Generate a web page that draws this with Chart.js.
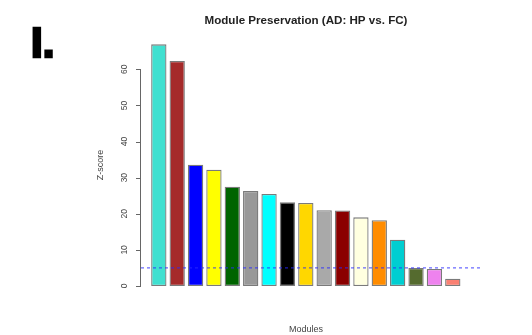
<!DOCTYPE html>
<html>
<head>
<meta charset="utf-8">
<script src="https://cdn.jsdelivr.net/npm/chart.js@4/dist/chart.umd.min.js"></script>
<style>
  body { margin: 0; background: #fff; }
  #wrap { position: relative; width: 532px; height: 335px; }
</style>
</head>
<body>
<div id="wrap"><canvas id="barChart" width="532" height="335"></canvas></div>
<script>
// modules (WGCNA colour names), sorted by preservation Z-score
var modules = ['turquoise', 'brown', 'blue', 'yellow', 'darkgreen', 'grey60', 'cyan', 'black',
  'gold', 'darkgrey', 'darkred', 'lightyellow', 'darkorange', 'darkturquoise',
  'darkolivegreen', 'violet', 'salmon'];
var zScores = [66.9, 62.3, 33.6, 32.2, 27.5, 26.3, 25.5, 23.2, 23.0, 21.0, 20.9, 19.0, 18.2, 12.8, 5.0, 4.7, 2.0];
var barColors = ['#40E0D0', '#A52A2A', '#0000FF', '#FFFF00', '#006400', '#999999', '#00FFFF', '#000000',
  '#FFD700', '#A9A9A9', '#8B0000', '#FFFFE0', '#FF8C00', '#00CED1', '#556B2F', '#EE82EE', '#FA8072'];
var yTicks = [0, 10, 20, 30, 40, 50, 60];
var threshold = 5;

// axis limits (R plot region)
var xMin = 0.03, xMax = 18.59;
var yMin = -2.77, yMax = 69.77;

var barData = modules.map(function (m, i) {
  return { x: i + 1, y: zScores[i] };
});

//-------------
//- R STYLE TEXT AND Y AXIS -
//-------------
var rAxisPlugin = {
  id: 'rAxis',
  afterDraw: function (chart) {
    var ctx = chart.ctx;
    var area = chart.chartArea;
    var ys = chart.scales.y;
    var x0 = area.left;
    ctx.save();

    // y axis line and ticks
    ctx.strokeStyle = '#666';
    ctx.lineWidth = 1;
    ctx.beginPath();
    ctx.moveTo(x0 - 0.5, ys.getPixelForValue(yTicks[0]));
    ctx.lineTo(x0 - 0.5, ys.getPixelForValue(yTicks[yTicks.length - 1]));
    yTicks.forEach(function (t) {
      var py = Math.round(ys.getPixelForValue(t)) + 0.5;
      ctx.moveTo(x0, py);
      ctx.lineTo(x0 - 5, py);
    });
    ctx.stroke();

    // rotated tick labels
    ctx.fillStyle = '#444';
    ctx.font = '8.5px "Liberation Sans", Arial, sans-serif';
    ctx.textAlign = 'center';
    ctx.textBaseline = 'middle';
    yTicks.forEach(function (t) {
      ctx.save();
      ctx.translate(x0 - 16, ys.getPixelForValue(t));
      ctx.rotate(-Math.PI / 2);
      ctx.fillText(String(t), 0, 0);
      ctx.restore();
    });

    // axis titles
    ctx.font = '9px "Liberation Sans", Arial, sans-serif';
    ctx.save();
    ctx.translate(101, 165);
    ctx.rotate(-Math.PI / 2);
    ctx.fillText('Z-score', 0, 0);
    ctx.restore();
    ctx.fillText('Modules', 306, 330);

    // main title
    ctx.fillStyle = '#222';
    ctx.font = 'bold 11.6px "Liberation Sans", Arial, sans-serif';
    ctx.fillText('Module Preservation (AD: HP vs. FC)', 306, 21);

    // panel letter
    ctx.fillStyle = '#000';
    ctx.strokeStyle = '#000';
    ctx.lineWidth = 2.5;
    ctx.font = 'bold 42px "Liberation Sans", Arial, sans-serif';
    ctx.textAlign = 'left';
    ctx.textBaseline = 'alphabetic';
    ctx.fillText('I.', 31, 57);
    ctx.strokeText('I.', 31, 57);
    ctx.restore();
  }
};

var barChartCanvas = document.getElementById('barChart').getContext('2d');

var barChart = new Chart(barChartCanvas, {
  type: 'bar',
  data: {
    datasets: [
      {
        type: 'line',
        label: 'Z = ' + threshold,
        data: [{ x: xMin, y: threshold }, { x: xMax, y: threshold }],
        borderColor: 'rgba(40,40,255,0.7)',
        borderWidth: 1.2,
        borderDash: [3, 3],
        pointRadius: 0,
        fill: false,
        order: 0
      },
      {
        label: 'Z-score',
        data: barData,
        backgroundColor: barColors,
        borderColor: 'rgba(50,50,50,0.65)',
        borderWidth: 1.3,
        borderSkipped: false,
        barPercentage: 0.833,
        categoryPercentage: 1,
        order: 1
      }
    ]
  },
  options: {
    responsive: false,
    animation: false,
    layout: {
      padding: { left: 141, right: 50, top: 34, bottom: 39 }
    },
    plugins: {
      legend: { display: false },
      title: { display: false },
      tooltip: { enabled: false }
    },
    scales: {
      x: { type: 'linear', min: xMin, max: xMax, offset: false, display: false },
      y: { type: 'linear', min: yMin, max: yMax, display: false }
    }
  },
  plugins: [rAxisPlugin]
});
</script>
</body>
</html>
